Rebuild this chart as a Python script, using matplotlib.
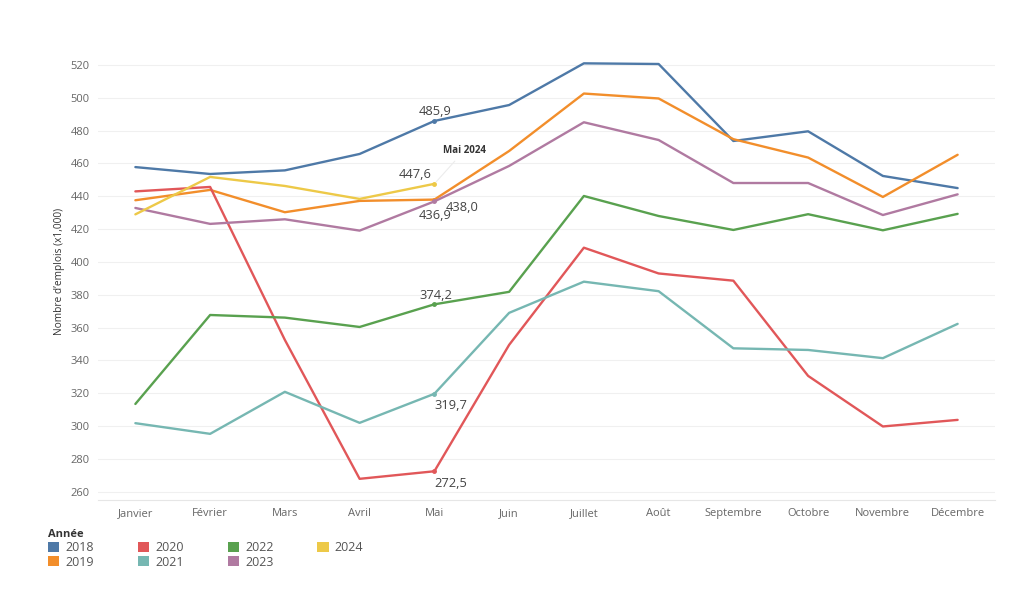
import matplotlib.pyplot as plt
from matplotlib.patches import Patch
import numpy as np

plt.rcParams['font.family'] = ['Open Sans', 'DejaVu Sans']

mois = ['Janvier', 'Février', 'Mars', 'Avril', 'Mai', 'Juin', 'Juillet',
        'Août', 'Septembre', 'Octobre', 'Novembre', 'Décembre']

v2018 = [457.8, 453.6, 455.8, 465.8, 485.9, 495.6, 521.0, 520.6, 473.7, 479.6, 452.4, 445.0]
v2019 = [437.6, 443.9, 430.3, 437.2, 438.0, 467.6, 502.6, 499.6, 474.8, 463.6, 439.6, 465.3]
v2020 = [443.0, 445.7, 352.5, 267.9, 272.5, 349.5, 408.7, 393.0, 388.6, 330.6, 299.8, 303.8]
v2021 = [301.8, 295.3, 320.9, 302.0, 319.7, 369.0, 388.0, 382.2, 347.4, 346.4, 341.4, 362.3]
v2022 = [313.5, 367.7, 366.1, 360.4, 374.2, 381.8, 440.2, 428.0, 419.5, 429.1, 419.3, 429.3]
v2023 = [432.9, 423.2, 426.0, 419.1, 436.9, 458.5, 485.1, 474.3, 448.1, 448.1, 428.6, 441.2]
v2024 = [429.0, 451.8, 446.3, 438.4, 447.6]

annees = ['2018', '2019', '2020', '2021', '2022', '2023', '2024']
series = [v2018, v2019, v2020, v2021, v2022, v2023, v2024]
couleurs = ['#4e79a7', '#f28e2b', '#e15759', '#76b7b2', '#59a14f', '#b07aa1', '#edc948']

fig = plt.figure(figsize=(10.24, 6.01), dpi=100)
ax = fig.add_axes([98 / 1024, 1 - 500 / 601, 897 / 1024, 458 / 601])

x = np.arange(len(mois))
for nom, vals, c in zip(annees, series, couleurs):
    ax.plot(x[:len(vals)], vals, color=c, lw=1.7, solid_capstyle='round')
    ax.plot(x[4], vals[4], 'o', color=c, ms=2.5)

ax.set_xlim(-0.5, 11.5)
ax.set_ylim(255, 534)
ax.set_yticks(np.arange(260, 521, 20))
ax.set_xticks(x)
ax.set_xticklabels(mois)
ax.tick_params(axis='both', length=0, labelsize=8, colors='#666666', pad=6)
ax.grid(axis='y', color='#f0f0f0', lw=0.8)
ax.set_axisbelow(True)
for s in ['top', 'right', 'left']:
    ax.spines[s].set_visible(False)
ax.spines['bottom'].set_color('#e6e6e6')
ax.set_ylabel('Nombre d\u2019emplois (x1,000)', fontsize=7.3, color='#333333', labelpad=4)

# etiquettes du mois de mai
lab = dict(fontsize=9.3, color='#444444')
ax.annotate('485,9', (4, 485.9), xytext=(-11, 4), textcoords='offset points', **lab)
ax.annotate('447,6', (4, 447.6), xytext=(-26, 4), textcoords='offset points', **lab)
ax.annotate('438,0', (4, 438.0), xytext=(8, -8), textcoords='offset points', **lab)
ax.annotate('436,9', (4, 436.9), xytext=(-11, -13), textcoords='offset points', **lab)
ax.annotate('374,2', (4, 374.2), xytext=(-11, 4), textcoords='offset points', **lab)
ax.annotate('319,7', (4, 319.7), xytext=(0, -11), textcoords='offset points', **lab)
ax.annotate('272,5', (4, 272.5), xytext=(0, -11), textcoords='offset points', **lab)

ax.annotate('Mai 2024', (4, 447.6), xytext=(6, 22), textcoords='offset points',
            fontsize=7, fontweight='bold', color='#333333',
            arrowprops=dict(arrowstyle='-', color='#ececec', lw=0.8))

poignees = [Patch(facecolor=c, edgecolor='none') for c in couleurs]
leg = fig.legend(poignees, annees, title='Année', ncol=4, loc='upper left',
                 bbox_to_anchor=(38 / 1024, 1 - 519 / 601), frameon=False,
                 fontsize=9, title_fontsize=8, handlelength=0.9, handleheight=0.9,
                 handletextpad=0.5, columnspacing=3.5, labelspacing=0.1,
                 alignment='left', borderpad=0.3)
for t in leg.get_texts():
    t.set_color('#555555')
leg.get_title().set_color('#333333')
leg.get_title().set_fontweight('bold')

fig.savefig('out.png', dpi=100)
